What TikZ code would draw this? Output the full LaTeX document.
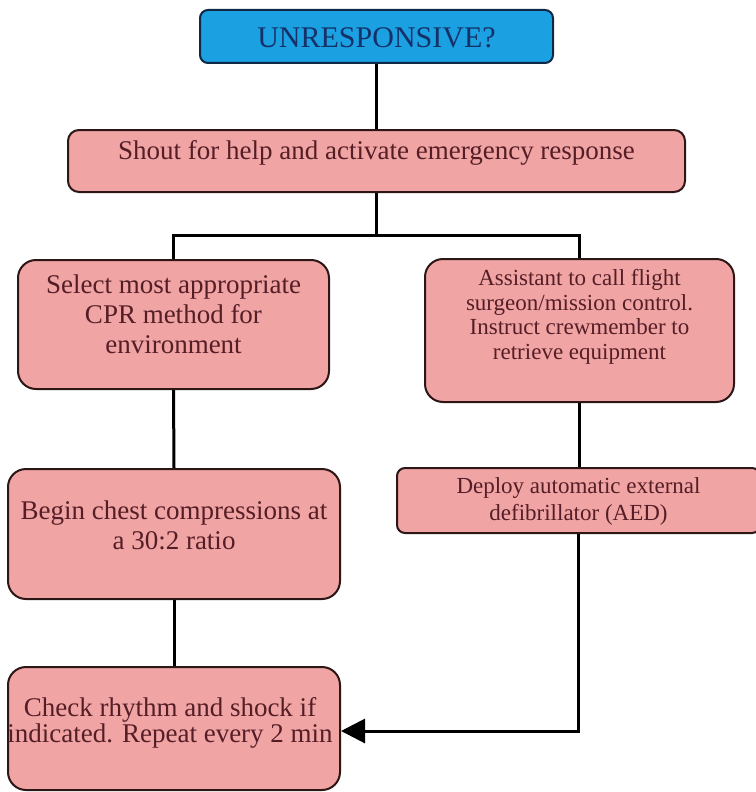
\documentclass[tikz,border=0pt]{standalone}
\usepackage{fontspec}
\setmainfont{Liberation Serif}
\usetikzlibrary{arrows.meta}
\definecolor{pinkfill}{RGB}{240,164,164}
\definecolor{boxline}{RGB}{45,22,22}
\definecolor{txtcol}{RGB}{85,30,38}
\definecolor{bluefill}{RGB}{27,161,226}
\definecolor{blueline}{RGB}{15,40,70}
\definecolor{bluetxt}{RGB}{20,50,105}
\begin{document}
\begin{tikzpicture}[x=1pt,y=-1pt,
  box/.style={draw=boxline, line width=2pt, fill=pinkfill, rounded corners=18pt, inner sep=0pt},
  txt/.style={align=center, text=txtcol, inner sep=0pt},
  conn/.style={line width=3pt, draw=black}]
\useasboundingbox (0,0) rectangle (755,792);

% boxes
\node[draw=blueline, line width=2pt, fill=bluefill, rounded corners=8pt, inner sep=0pt,
      minimum width=353pt, minimum height=53pt] (top) at (376.5,36.5) {};
\node[box, rounded corners=11pt, minimum width=617pt, minimum height=62pt] (shout) at (376.5,161) {};
\node[box, minimum width=311pt, minimum height=129pt] (sel) at (173.5,324.5) {};
\node[box, minimum width=309pt, minimum height=143pt] (asst) at (579.5,330.5) {};
\node[box, minimum width=332pt, minimum height=130pt] (begin) at (174,534) {};
\node[box, rounded corners=8pt, minimum width=363pt, minimum height=65pt] (aed) at (578.5,500.5) {};
\node[box, minimum width=332pt, minimum height=123pt] (check) at (174,728.5) {};

% texts
\node[txt, text=bluetxt, font=\fontsize{30}{32}\selectfont] (ttop) at (376.5,37.5) {UNRESPONSIVE?};
\node[txt, font=\fontsize{27}{30}\selectfont] (tshout) at (376.5,153) {Shout for help and activate emergency response};
\node[txt, font=\fontsize{27}{30}\selectfont] (tsel) at (173.5,314) {Select most appropriate\\CPR method for\\environment};
\node[txt, font=\fontsize{23}{24.5}\selectfont] (tasst) at (579.5,317) {Assistant to call flight\\surgeon/mission control.\\Instruct crewmember to\\retrieve equipment};
\node[txt, font=\fontsize{27}{30}\selectfont] (tbegin) at (174,525) {Begin chest compressions at\\a 30:2 ratio};
\node[txt, font=\fontsize{23}{27}\selectfont] (taed) at (578.5,501) {Deploy automatic external\\defibrillator (AED)};
\node[txt, font=\fontsize{27}{26}\selectfont] (tcheck) at (170,723) {Check rhythm and shock if\\indicated. Repeat every 2 min};

% connectors
\coordinate (bl) at (173.5,235);
\coordinate (br) at (579.5,235);
\draw[conn] (top.south) -- (shout.north);
\draw[conn] (shout.south) -- (shout.south |- bl);
\draw[conn] (sel.north) -- (bl) -- (br) -- (asst.north);
\draw[conn] (sel.south) -- (begin.north);
\draw[conn] (begin.south) -- (check.north);
\draw[conn] (asst.south) -- (asst.south |- aed.north);
\draw[conn, -{Triangle[length=24pt,width=24pt]}] (aed.south) |- ([yshift=-2.5pt]check.east);
\end{tikzpicture}
\end{document}
